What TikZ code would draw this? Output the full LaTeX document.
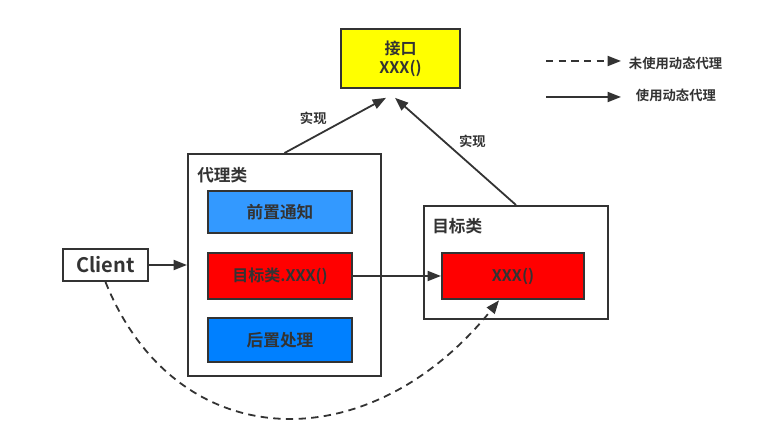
\documentclass[tikz,border=0pt]{standalone}
\usepackage{fontspec}
\setmainfont{Noto Sans CJK SC}[BoldFont={* Bold}]
\usetikzlibrary{arrows.meta, positioning, calc}
\definecolor{linegray}{HTML}{333333}
\definecolor{lightblue}{HTML}{3399FF}
\definecolor{deepblue}{HTML}{0080FF}
\definecolor{ifaceyellow}{HTML}{FFFF00}
\definecolor{callred}{HTML}{FF0000}
\tikzset{
    box/.style={draw=linegray, rectangle, line width=1.5pt, align=center, text=linegray, font=\bfseries\fontsize{12}{14}\selectfont, inner sep=2pt},
    frame/.style={draw=linegray, rectangle, line width=1.5pt, fill=white},
    tag/.style={text=linegray, font=\bfseries\fontsize{12.5}{14}\selectfont, inner sep=0pt, anchor=west},
    note/.style={text=linegray, font=\bfseries\fontsize{10}{12}\selectfont, inner sep=2pt},
    arrow/.style={draw=linegray, -{Triangle[length=10pt, width=7.5pt]}, line width=1.35pt},
    darrow/.style={arrow, dash pattern=on 5.5pt off 4pt}
}
\begin{document}
\begin{tikzpicture}[x=0.75pt, y=-0.75pt]
    \useasboundingbox (0,0) rectangle (770,434);
    % interface
    \node [box, fill=ifaceyellow, minimum width=89pt, minimum height=44pt] (iface) at (400.5,58.5) {接口\\XXX()};
    % proxy class
    \node [frame, minimum width=144.75pt, minimum height=166.5pt] (proxy) at (284.5,265) {};
    \node [tag] (proxytag) at (197,175) {代理类};
    \node [box, fill=callred, minimum width=108pt, minimum height=35pt] (call) at (280,276) {目标类.XXX()};
    \node [box, fill=lightblue, font=\bfseries\fontsize{12.5}{14}\selectfont, minimum width=108pt, minimum height=31.5pt, above=13pt of call] (before) {前置通知};
    \node [box, fill=deepblue, font=\bfseries\fontsize{12.5}{14}\selectfont, minimum width=108pt, minimum height=33pt, below=12.5pt of call] (after) {后置处理};
    % target class
    \node [frame, minimum width=138pt, minimum height=84.75pt] (target) at (516,262.5) {};
    \node [tag] (targettag) at (432,226) {目标类};
    \node [box, fill=callred, minimum width=106.5pt, minimum height=35pt] (xxx) at (513,276) {XXX()};
    % client
    \node [box, fill=white, font=\bfseries\fontsize{15}{17}\selectfont, minimum width=63.75pt, minimum height=24pt] (client) at (105.5,265) {Client};
    % legend
    \coordinate (lgA) at (546,61);
    \coordinate (lgB) at (621,61);
    \coordinate (lgC) at (546,97);
    \coordinate (lgD) at (621,97);
    \node [note, anchor=west] (lgdash) at (626,63) {未使用动态代理};
    \node [note, anchor=west] (lgsolid) at (633,95) {使用动态代理};

    \draw [darrow] (lgA) -- (lgB);
    \draw [arrow] (lgC) -- (lgD);
    \draw [arrow] (client) -- (proxy);
    \draw [arrow] (call) -- (xxx);
    \draw [arrow] (proxy.north) -- node [note, above left, pos=0.45] {实现} ([shift={(-14.5,9)}]iface.south);
    \draw [arrow] (target.north) -- node [note, above right, pos=0.5] {实现} ([shift={(-5.5,9)}]iface.south);
    \draw [darrow] (client.south) .. controls (176,457) and (369,462) .. ([shift={(-14,0)}]xxx.south);
\end{tikzpicture}
\end{document}
